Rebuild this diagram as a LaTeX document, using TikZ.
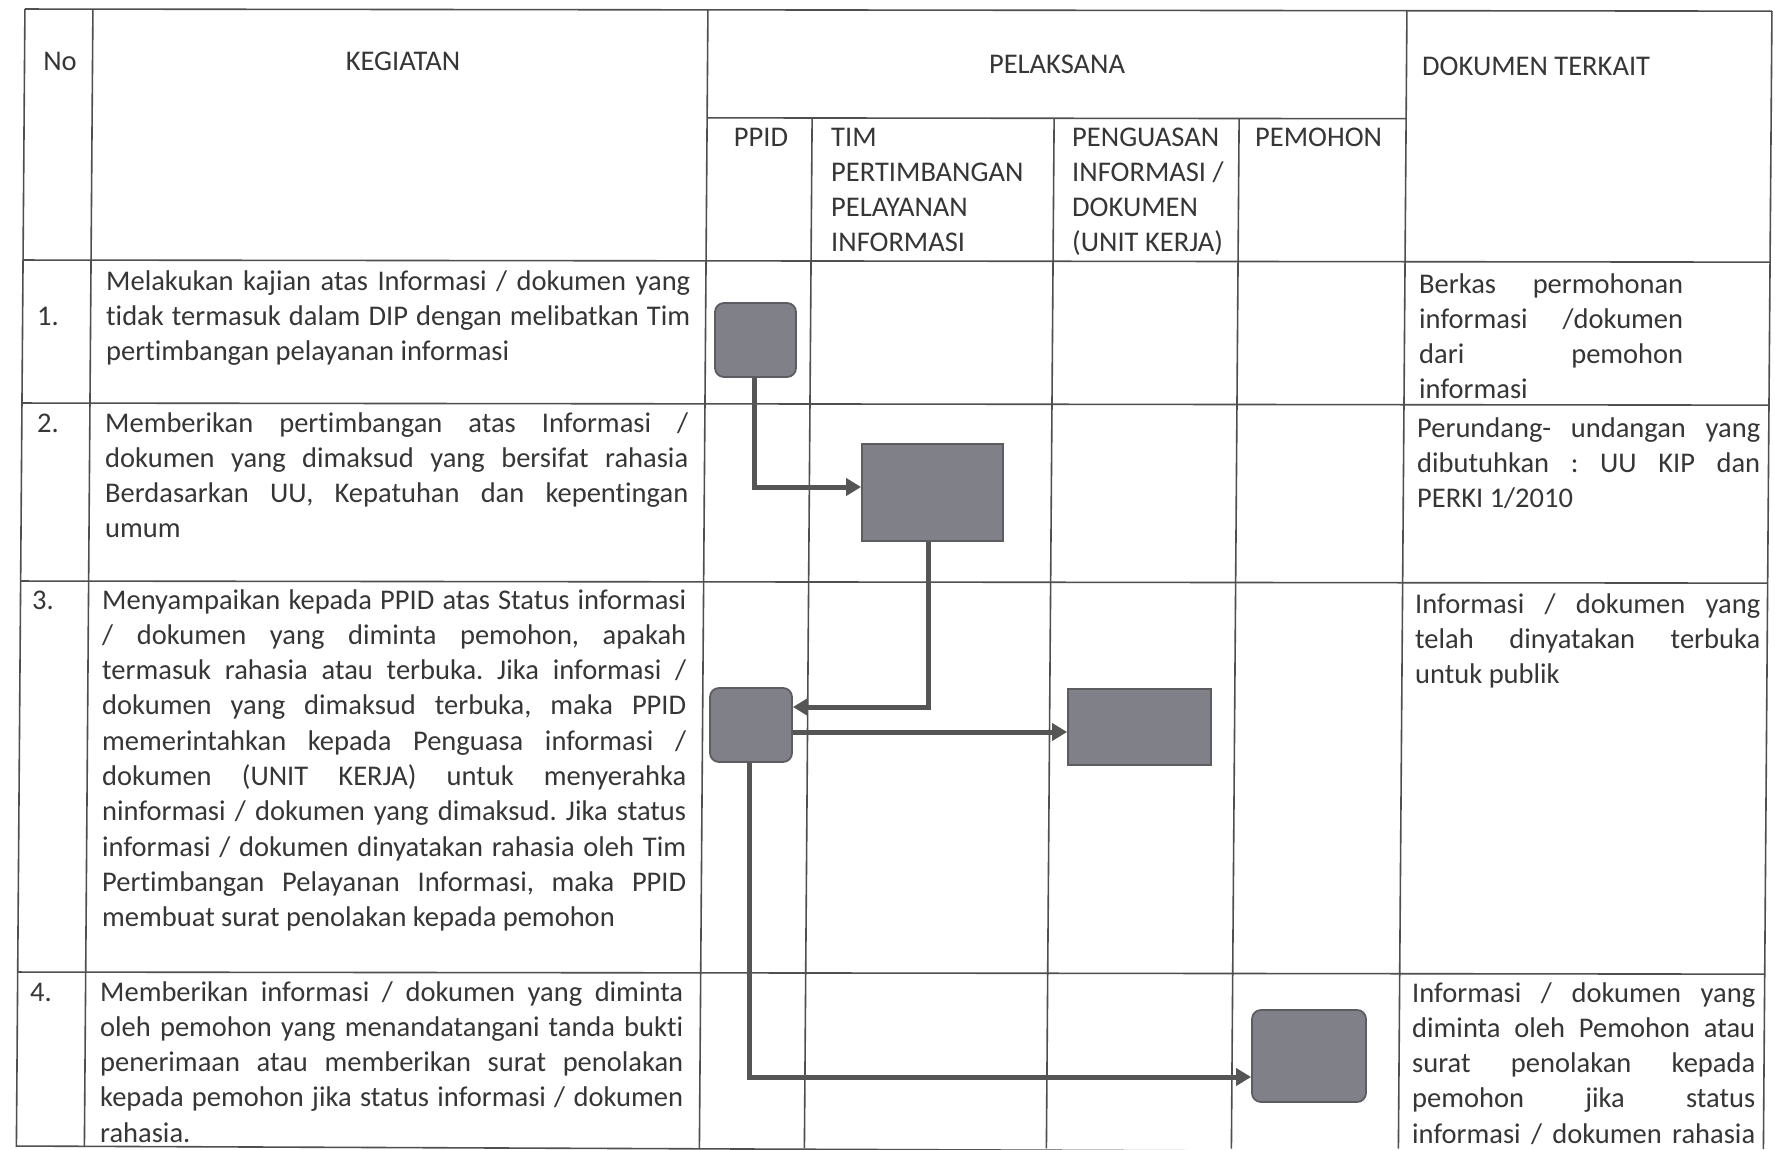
\documentclass[tikz,border=0pt]{standalone}
\usepackage{fontspec}
\setmainfont{Carlito}[Ligatures={NoCommon}]
\usetikzlibrary{arrows.meta,calc}
\definecolor{ink}{HTML}{363636}
\definecolor{gridc}{HTML}{4F4F4F}
\definecolor{boxfill}{HTML}{808088}
\definecolor{boxline}{HTML}{5C5C61}
\definecolor{connc}{HTML}{555555}
\frenchspacing
\newcommand\JL[2]{\hbox to #1{#2}}
\newcommand\LL[1]{\hbox{#1}}
\newcommand\Blk[1]{\vtop{\baselineskip=35.3pt\lineskiplimit=-100pt\lineskip=0pt #1}}
\tikzset{
  txt/.style={inner sep=0pt, text=ink, font=\fontsize{28.5}{35.3}\selectfont},
  gridline/.style={draw=gridc, line width=1.6pt},
  rbox/.style={draw=boxline, fill=boxfill, line width=1.8pt, rounded corners=9pt, inner sep=0pt},
  sbox/.style={draw=boxline, fill=boxfill, line width=1.8pt, inner sep=0pt},
  conn/.style={draw=connc, line width=5pt, -{Triangle[length=15pt,width=17pt]}},
}
\begin{document}
\begin{tikzpicture}[x=1pt,y=-1pt]
\useasboundingbox[fill=white] (0,0) rectangle (1775,1149);
% table grid (slightly skewed like the scan)
\begin{scope}[cm={1,-0.0012,0.0075,1,(0,0)}]
\foreach \xx in {25,93,708,1407,1772} \draw[gridline] (\xx,9) -- (\xx,1147);
\foreach \xx in {813,1055,1240} \draw[gridline] (\xx,117) -- (\xx,1147);
\draw[gridline] (708,117) -- (1407,117);
\foreach \yy in {9,260,403,581,972} \draw[gridline] (25,\yy) -- (1772,\yy);
\draw[gridline] (25,1146) -- (1772,1151);
\end{scope}
% header
\node[txt, anchor=base] (hno) at (60,70) {No};
\node[txt, anchor=base] (hkeg) at (403,70) {KEGIATAN};
\node[txt, anchor=base] (hpel) at (1057,73) {PELAKSANA};
\node[txt, anchor=base west] (hdok) at (1422,75) {DOKUMEN TERKAIT};
\node[txt, anchor=base] (hppid) at (761,146) {PPID};
\node[txt, anchor=base west] (htim) at (831,146) {\Blk{\LL{TIM}\LL{PERTIMBANGAN}\LL{PELAYANAN}\LL{INFORMASI}}};
\node[txt, anchor=base west] (hpeng) at (1072,146) {\Blk{\LL{PENGUASAN}\LL{INFORMASI /}\LL{DOKUMEN}\LL{(UNIT KERJA)}}};
\node[txt, anchor=base west] (hpem) at (1255,146) {PEMOHON};
% numbers
\node[txt, anchor=base west] (n1) at (37,325) {1.};
\node[txt, anchor=base west] (n2) at (37,432) {2.};
\node[txt, anchor=base west] (n3) at (32,609) {3.};
\node[txt, anchor=base west] (n4) at (30,1001) {4.};
% kegiatan texts
\node[txt, anchor=base west] (k1) at (106,290) {\Blk{%
\JL{584pt}{Melakukan kajian atas Informasi / dokumen yang}
\JL{584pt}{tidak termasuk dalam DIP dengan melibatkan Tim}
\LL{pertimbangan pelayanan informasi}}};
\node[txt, anchor=base west] (k2) at (105,432) {\Blk{%
\JL{583pt}{Memberikan pertimbangan atas Informasi /}
\JL{583pt}{dokumen yang dimaksud yang bersifat rahasia}
\JL{583pt}{Berdasarkan UU, Kepatuhan dan kepentingan}
\LL{umum}}};
\node[txt, anchor=base west] (k3) at (102,609) {\Blk{%
\JL{584pt}{Menyampaikan kepada PPID atas Status informasi}
\JL{584pt}{/ dokumen yang diminta pemohon, apakah}
\JL{584pt}{termasuk rahasia atau terbuka. Jika informasi /}
\JL{584pt}{dokumen yang dimaksud terbuka, maka PPID}
\JL{584pt}{memerintahkan kepada Penguasa informasi /}
\JL{584pt}{dokumen (UNIT KERJA) untuk menyerahka}
\JL{584pt}{ninformasi / dokumen yang dimaksud. Jika status}
\JL{584pt}{informasi / dokumen dinyatakan rahasia oleh Tim}
\JL{584pt}{Pertimbangan Pelayanan Informasi, maka PPID}
\LL{membuat surat penolakan kepada pemohon}}};
\node[txt, anchor=base west] (k4) at (100,1001) {\Blk{%
\JL{583pt}{Memberikan informasi / dokumen yang diminta}
\JL{583pt}{oleh pemohon yang menandatangani tanda bukti}
\JL{583pt}{penerimaan atau memberikan surat penolakan}
\JL{583pt}{kepada pemohon jika status informasi / dokumen}
\LL{rahasia.}}};
% dokumen texts
\node[txt, anchor=base west] (d1) at (1419,293) {\Blk{%
\JL{264pt}{Berkas permohonan}
\JL{264pt}{informasi /dokumen}
\JL{264pt}{dari pemohon}
\LL{informasi}}};
\node[txt, anchor=base west] (d2) at (1417,437) {\Blk{%
\JL{343pt}{Perundang- undangan yang}
\JL{343pt}{dibutuhkan : UU KIP dan}
\LL{PERKI 1/2010}}};
\node[txt, anchor=base west] (d3) at (1415,613) {\Blk{%
\JL{345pt}{Informasi / dokumen yang}
\JL{345pt}{telah dinyatakan terbuka}
\LL{untuk publik}}};
\node[txt, anchor=base west] (d4) at (1412,1002) {\Blk{%
\JL{343pt}{Informasi / dokumen yang}
\JL{343pt}{diminta oleh Pemohon atau}
\JL{343pt}{surat penolakan kepada}
\JL{343pt}{pemohon jika status}
\JL{343pt}{informasi / dokumen rahasia}}};
% flow boxes
\node[rbox, minimum width=81, minimum height=74] (b1) at (755.5,340) {};
\node[sbox, minimum width=141, minimum height=97] (b2) at (932.5,492.5) {};
\node[rbox, minimum width=82, minimum height=74] (b3) at (751,725) {};
\node[sbox, minimum width=143, minimum height=76] (b4) at (1139.5,727) {};
\node[rbox, minimum width=114, minimum height=92] (b5) at (1309,1056) {};
% connectors
\draw[conn] ([xshift=-1.5pt]b1.south) |- ([yshift=5.5pt]b2.west);
\draw[conn] ([xshift=-4.5pt]b2.south) |- ([yshift=18pt]b3.east);
\draw[conn] ([yshift=-7pt]b3.east) -- ([yshift=-7pt]b3.east -| b4.west);
\draw[conn] ([xshift=-2pt]b3.south) |- ([yshift=-21pt]b5.west);
\end{tikzpicture}
\end{document}
